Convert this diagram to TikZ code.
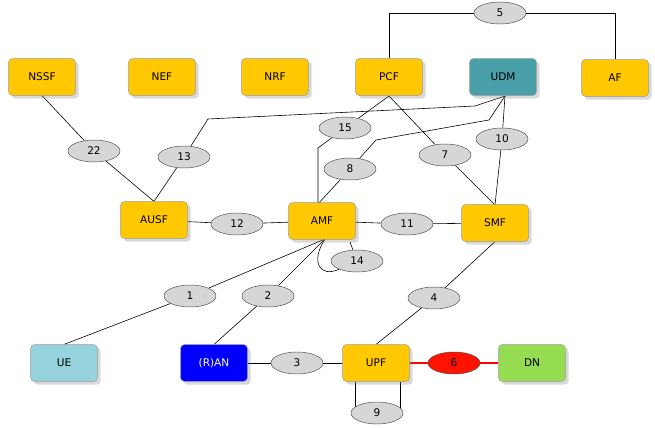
\documentclass[tikz,border=0pt]{standalone}
\usepackage{fontspec}
\setmainfont{DejaVu Sans}
\usetikzlibrary{positioning,calc,shadows,shapes.geometric,backgrounds}
\definecolor{nfyellow}{HTML}{FFC800}
\definecolor{udmteal}{HTML}{4AA0A8}
\definecolor{uecyan}{HTML}{96D2DC}
\definecolor{dngreen}{HTML}{96DC50}
\definecolor{ovgray}{HTML}{D6D6D6}
\tikzset{
	nf/.style={rounded corners=3pt,minimum height=1.1cm,minimum width=2cm,draw=black!40,fill=nfyellow,drop shadow={opacity=0.3},font=\fontsize{9}{9}\selectfont},
	ref/.style={ellipse,minimum height=0.66cm,minimum width=1.56cm,inner sep=0pt,draw=black!70,fill=ovgray,font=\fontsize{9}{9}\selectfont},
	link/.style={draw=black,line width=0.5pt}
}
\begin{document}
\begin{tikzpicture}[x=0.03cm,y=-0.03cm]
	\useasboundingbox (0,0) rectangle (655,427);
	% network functions
	\node[nf] (nssf) at (42,77) {NSSF};
	\node[nf] (nef) at (162,77) {NEF};
	\node[nf] (nrf) at (275,77) {NRF};
	\node[nf] (pcf) at (389,77) {PCF};
	\node[nf,fill=udmteal] (udm) at (503,77) {UDM};
	\node[nf] (af) at (615,78) {AF};
	\node[nf] (ausf) at (154,220) {AUSF};
	\node[nf] (amf) at (322,221) {AMF};
	\node[nf] (smf) at (495,223) {SMF};
	\node[nf,fill=uecyan] (ue) at (64,363) {UE};
	\node[nf,fill=blue,text=white] (ran) at (214,363) {(R)AN};
	\node[nf] (upf) at (376,363) {UPF};
	\node[nf,fill=dngreen] (dn) at (532,363) {DN};
	
	% reference points
	\node[ref] (r5) at (500,13) {5};
	\node[ref] (r15) at (345,128) {15};
	\node[ref] (r10) at (502,139) {10};
	\node[ref] (r22) at (94,151) {22};
	\node[ref] (r13) at (184,157) {13};
	\node[ref] (r8) at (350,169) {8};
	\node[ref] (r7) at (445,155) {7};
	\node[ref] (r12) at (237,224) {12};
	\node[ref] (r11) at (407,224) {11};
	\node[ref] (r14) at (357,261) {14};
	\node[ref] (r1) at (190,296) {1};
	\node[ref] (r2) at (268,296) {2};
	\node[ref] (r4) at (434,298) {4};
	\node[ref] (r3) at (297,363) {3};
	\node[ref,fill=red!85!orange] (r6) at (454,363) {6};
	\node[ref] (r9) at (377,413) {9};
	
	\coordinate (amftop) at (318,204);
	\coordinate (amfbot) at (325,239);
	\coordinate (smftop) at (495,205);
	\coordinate (udmbot) at (505,96);
	\coordinate (pcfbot) at (389,96);
	
	\begin{pgfonlayer}{background}
	\draw[link] (pcf.north) |- (r5) -| (af.north);
	\draw[link] (nssf.south) -- (r22) -- (ausf.north);
	\draw[link] (ausf.north) -- (r13) -- (208,119) -- (475,106) -- (udmbot);
	\draw[link] (pcfbot) -- (r15) -- (318,148) -- (amftop);
	\draw[link] (amftop) -- (r8) -- (376,140) -- (489,120) -- (udmbot);
	\draw[link] (pcfbot) -- (r7) -- (smftop);
	\draw[link] (udmbot) -- (r10) -- (smftop);
	\draw[link] (ausf) -- (r12) -- (amf);
	\draw[link] (amf) -- (r11) -- (smf);
	\draw[link] (amfbot) .. controls (310,262) and (320,278) .. (r14) -- (350,242);
	\draw[link] (ue.north) -- (r1) -- (amfbot);
	\draw[link] (ran.north) -- (r2) -- (amfbot);
	\draw[link] (upf.north) -- (r4) -- (smf.south);
	\draw[link] (ran) -- (r3) -- (upf);
	\draw[link,red,line width=1.5pt] (upf) -- (r6) -- (dn);
	\draw[link] (355,382) |- (r9) -| (400,382);
	\end{pgfonlayer}
\end{tikzpicture}
\end{document}
